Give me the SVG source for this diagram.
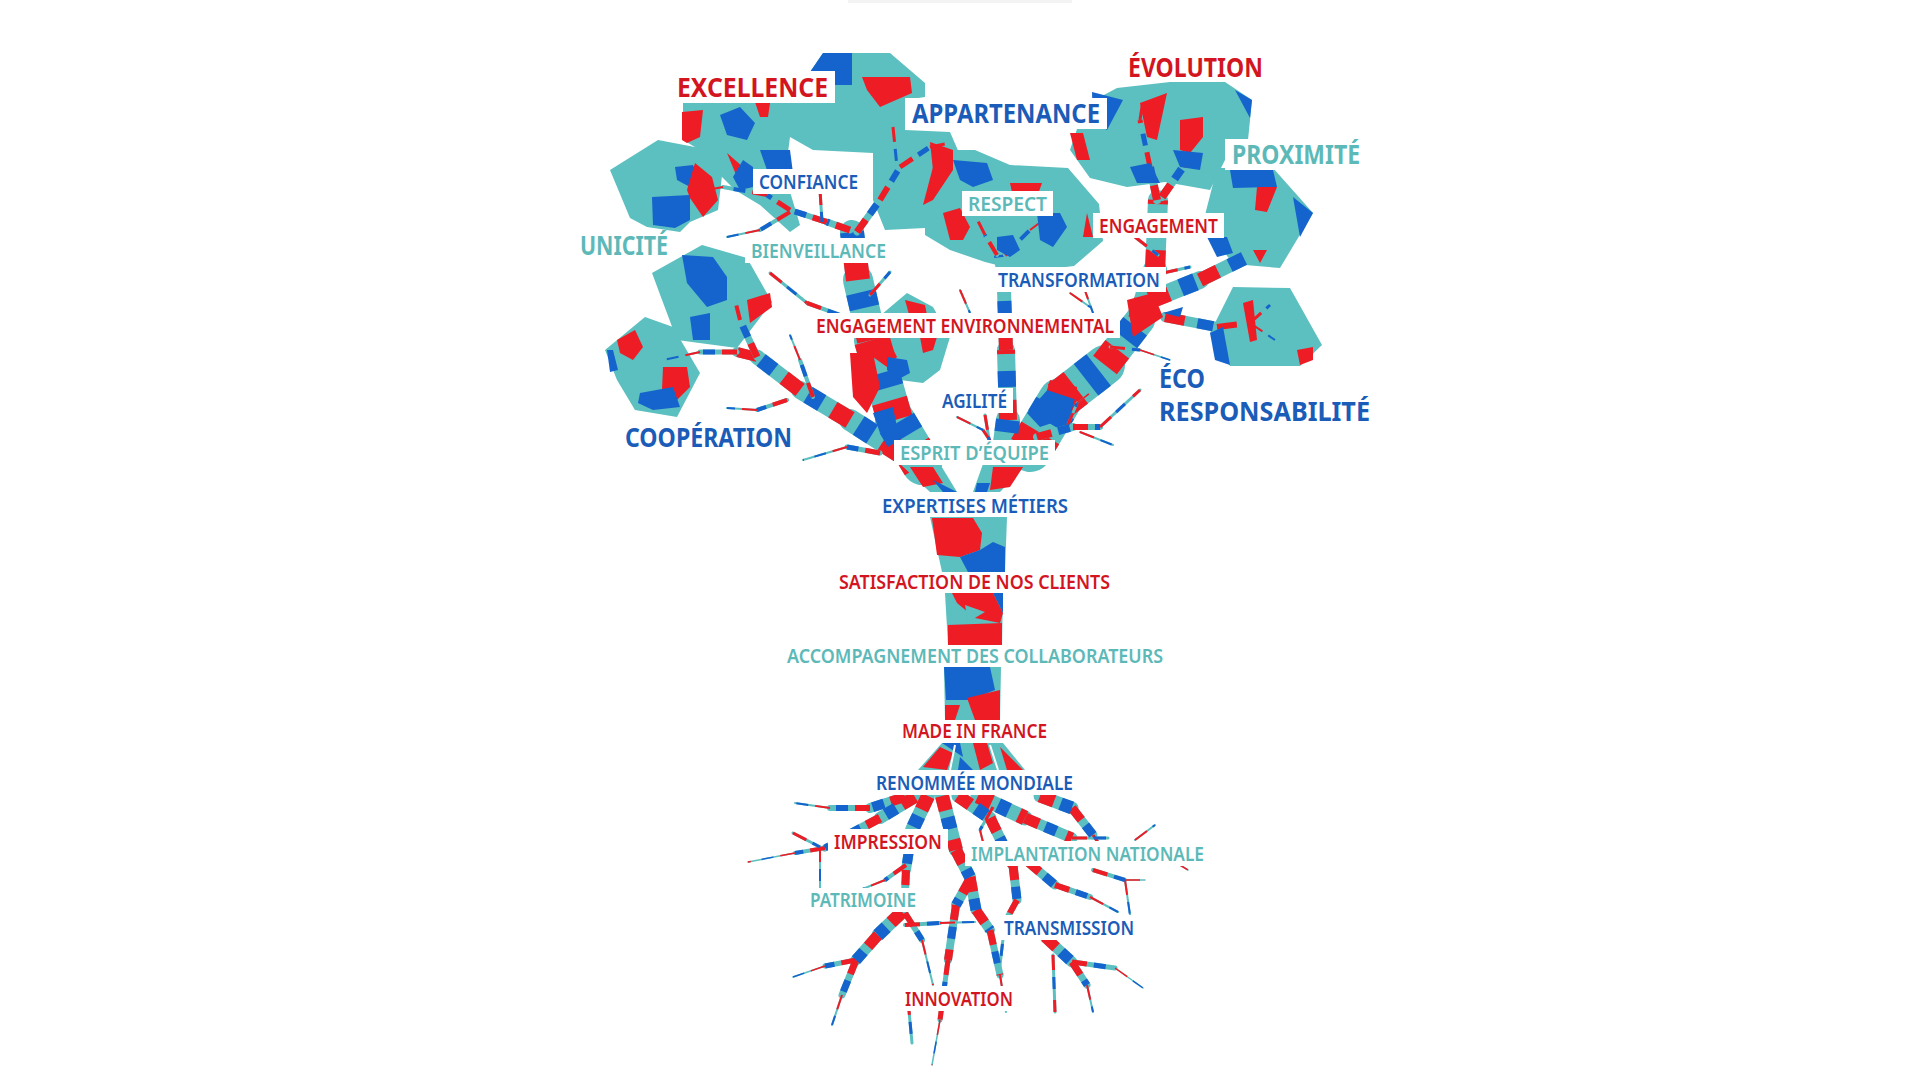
<svg xmlns="http://www.w3.org/2000/svg" width="1917" height="1080" viewBox="0 0 1917 1080">
<style>
.t{fill:#5cbfc0}.r{fill:#ee1c25}.b{fill:#1563cc}.w{fill:#fff}
.lb{font-family:"Noto Sans","Open Sans","Liberation Sans",sans-serif;font-weight:600;font-size:20px}
.bg{font-family:"Noto Sans","Open Sans","Liberation Sans",sans-serif;font-weight:700;font-size:26px}
.cr{fill:#d3151f}.cb{fill:#1a5cb7}.ct{fill:#5cb9b8}
</style>
<defs>
<g id="limbs" fill="none">
<path d="M922,465 L895,420" stroke-width="40"/>
<path d="M895,420 L872,340" stroke-width="36"/>
<path d="M872,340 L858,280" stroke-width="30"/>
<path d="M858,280 L852,232" stroke-width="24"/>
<path d="M900,452 L850,420" stroke-width="22"/>
<path d="M850,420 L800,390" stroke-width="18"/>
<path d="M800,390 L757,357" stroke-width="15"/>
<path d="M757,357 L737,352" stroke-width="10"/>
<path d="M1002,465 L1008,420" stroke-width="24"/>
<path d="M1008,420 L1006,350" stroke-width="18"/>
<path d="M1006,350 L1004,290" stroke-width="14"/>
<path d="M1004,290 L1000,255" stroke-width="12"/>
<path d="M1030,450 L1060,400" stroke-width="44"/>
<path d="M1060,400 L1105,365" stroke-width="40"/>
<path d="M1105,365 L1140,320" stroke-width="30"/>
<path d="M1140,320 L1155,270" stroke-width="24"/>
<path d="M1155,270 L1158,200" stroke-width="20"/>
<path d="M1150,300 L1200,280" stroke-width="18"/>
<path d="M1200,280 L1247,257" stroke-width="14"/>
<path d="M1165,317 L1217,327" stroke-width="10"/>
<path d="M1217,327 L1250,323" stroke-width="6"/>
</g>
<g id="fine" fill="none">
<path d="M857,232 L880,200" stroke-width="7"/>
<path d="M880,200 L900,167" stroke-width="6"/>
<path d="M900,167 L930,147" stroke-width="5"/>
<path d="M930,147 L950,143" stroke-width="3"/>
<path d="M850,230 L827,222" stroke-width="7"/>
<path d="M827,222 L790,210" stroke-width="6"/>
<path d="M790,210 L767,195" stroke-width="5"/>
<path d="M767,195 L723,187" stroke-width="4"/>
<path d="M723,187 L690,193" stroke-width="2"/>
<path d="M790,212 L760,230" stroke-width="4"/>
<path d="M760,230 L727,237" stroke-width="2"/>
<path d="M820,190 L822,222" stroke-width="3"/>
<path d="M893,127 L897,167" stroke-width="3"/>
<path d="M770,273 L807,303" stroke-width="3"/>
<path d="M807,303 L840,315" stroke-width="4"/>
<path d="M870,295 L890,272" stroke-width="3"/>
<path d="M813,397 L800,360" stroke-width="4"/>
<path d="M800,360 L790,335" stroke-width="2"/>
<path d="M787,400 L757,410" stroke-width="4"/>
<path d="M757,410 L727,408" stroke-width="2"/>
<path d="M880,453 L847,447" stroke-width="5"/>
<path d="M847,447 L803,460" stroke-width="2"/>
<path d="M737,352 L700,352" stroke-width="5"/>
<path d="M700,352 L663,360" stroke-width="2"/>
<path d="M757,357 L740,320" stroke-width="7"/>
<path d="M740,320 L735,300" stroke-width="4"/>
<path d="M957,417 L983,430" stroke-width="2"/>
<path d="M983,430 L993,445" stroke-width="3"/>
<path d="M985,415 L990,445" stroke-width="3"/>
<path d="M1037,437 L1073,427" stroke-width="8"/>
<path d="M1073,427 L1100,427" stroke-width="6"/>
<path d="M1100,427 L1140,390" stroke-width="3"/>
<path d="M1067,427 L1077,403" stroke-width="3"/>
<path d="M1077,403 L1090,393" stroke-width="1.5"/>
<path d="M1080,432 L1113,445" stroke-width="2"/>
<path d="M1070,293 L1090,307" stroke-width="2"/>
<path d="M1083,285 L1093,313" stroke-width="2"/>
<path d="M960,290 L970,313" stroke-width="2"/>
<path d="M1157,200 L1150,167" stroke-width="8"/>
<path d="M1150,167 L1140,120" stroke-width="5"/>
<path d="M1140,120 L1143,100" stroke-width="3"/>
<path d="M1162,197 L1183,167" stroke-width="8"/>
<path d="M1183,167 L1200,120" stroke-width="5"/>
<path d="M1110,347 L1140,350" stroke-width="3"/>
<path d="M1140,350 L1170,360" stroke-width="1.5"/>
<path d="M997,255 L985,235" stroke-width="4"/>
<path d="M985,235 L975,215" stroke-width="3"/>
<path d="M1005,255 L1030,230" stroke-width="4"/>
<path d="M1030,230 L1050,215" stroke-width="2"/>
<path d="M1135,237 L1158,255" stroke-width="3"/>
<path d="M1163,273 L1190,267" stroke-width="3"/>
<path d="M1250,323 L1270,305" stroke-width="3"/>
<path d="M1250,323 L1275,340" stroke-width="2"/>
<path d="M905,797 L870,808" stroke-width="10"/>
<path d="M870,808 L830,808" stroke-width="6"/>
<path d="M830,808 L795,803" stroke-width="2"/>
<path d="M915,797 L880,818" stroke-width="12"/>
<path d="M880,818 L848,835" stroke-width="9"/>
<path d="M848,835 L825,848" stroke-width="7"/>
<path d="M825,848 L795,853" stroke-width="4"/>
<path d="M795,853 L748,862" stroke-width="1.5"/>
<path d="M928,796 L912,830" stroke-width="14"/>
<path d="M912,830 L906,870" stroke-width="10"/>
<path d="M906,870 L905,893" stroke-width="8"/>
<path d="M906,865 L885,880" stroke-width="4"/>
<path d="M885,880 L860,890" stroke-width="2"/>
<path d="M902,912 L878,935" stroke-width="13"/>
<path d="M878,935 L856,960" stroke-width="11"/>
<path d="M856,960 L842,995" stroke-width="7"/>
<path d="M842,995 L832,1025" stroke-width="2"/>
<path d="M856,960 L825,966" stroke-width="5"/>
<path d="M825,966 L793,977" stroke-width="1.5"/>
<path d="M905,913 L922,940" stroke-width="6"/>
<path d="M922,940 L933,985" stroke-width="2"/>
<path d="M942,796 L956,850" stroke-width="14"/>
<path d="M956,850 L970,877" stroke-width="12"/>
<path d="M970,877 L976,910" stroke-width="11"/>
<path d="M976,910 L990,930" stroke-width="10"/>
<path d="M990,930 L1000,975" stroke-width="7"/>
<path d="M1000,975 L1006,1012" stroke-width="2"/>
<path d="M970,880 L956,905" stroke-width="10"/>
<path d="M956,905 L948,960" stroke-width="8"/>
<path d="M948,960 L940,1020" stroke-width="5"/>
<path d="M940,1020 L932,1065" stroke-width="1.5"/>
<path d="M958,796 L990,818" stroke-width="13"/>
<path d="M990,818 L1013,865" stroke-width="11"/>
<path d="M1013,865 L1017,900" stroke-width="9"/>
<path d="M1017,900 L1005,922" stroke-width="6"/>
<path d="M1005,922 L1000,965" stroke-width="3"/>
<path d="M978,796 L1025,818" stroke-width="15"/>
<path d="M1025,818 L1072,838" stroke-width="11"/>
<path d="M1072,838 L1108,838" stroke-width="3"/>
<path d="M1040,796 L1072,808" stroke-width="13"/>
<path d="M1072,808 L1093,835" stroke-width="9"/>
<path d="M1093,835 L1108,857" stroke-width="3"/>
<path d="M1028,862 L1055,885" stroke-width="9"/>
<path d="M1055,885 L1090,897" stroke-width="6"/>
<path d="M1090,897 L1118,912" stroke-width="2"/>
<path d="M1045,937 L1072,962" stroke-width="11"/>
<path d="M1072,962 L1087,985" stroke-width="7"/>
<path d="M1087,985 L1093,1012" stroke-width="2"/>
<path d="M1072,962 L1115,968" stroke-width="5"/>
<path d="M1115,968 L1143,988" stroke-width="1.5"/>
<path d="M1053,955 L1055,1012" stroke-width="3"/>
<path d="M908,1000 L912,1043" stroke-width="3"/>
<path d="M1093,870 L1125,880" stroke-width="4"/>
<path d="M1125,880 L1145,880" stroke-width="1.5"/>
<path d="M1125,880 L1130,915" stroke-width="2"/>
<path d="M793,833 L820,847" stroke-width="3"/>
<path d="M820,847 L820,890" stroke-width="2"/>
<path d="M1135,840 L1155,825" stroke-width="2"/>
<path d="M993,807 L980,830" stroke-width="3"/>
<path d="M980,830 L983,842" stroke-width="2"/>
<path d="M1175,862 L1188,870" stroke-width="1.5"/>
<path d="M905,925 L940,923" stroke-width="4"/>
<path d="M940,923 L975,922" stroke-width="2"/>
</g>
</defs>
<rect width="1917" height="1080" fill="#fff"/>
<rect x="848" y="0" width="224" height="3" fill="#f3f3f3"/>

<g id="foliage">
<polygon class="t" points="683,100 810,72 823,53 890,53 925,83 925,97 905,100 905,130 950,132 960,155 945,180 925,228 885,230 873,200 873,153 813,150 790,137 785,175 800,225 790,232 760,205 735,190 715,170 700,150 683,140"/>
<polygon class="t" points="610,170 658,140 700,148 723,167 718,210 690,222 680,232 647,227 630,218"/>
<polygon class="t" points="940,150 975,150 1010,165 1068,168 1099,204 1103,241 1074,266 1025,272 985,262 950,250 925,235 925,200"/>
<polygon class="t" points="1070,150 1085,105 1117,88 1170,82 1225,82 1252,100 1248,140 1225,160 1210,190 1165,182 1127,187 1090,178"/>
<polygon class="t" points="1217,168 1273,168 1313,213 1280,268 1233,264 1203,223"/>
<polygon class="t" points="1233,287 1290,288 1322,345 1300,366 1230,366 1210,333"/>
<polygon class="t" points="652,273 702,245 747,258 772,302 737,348 677,340"/>
<polygon class="t" points="605,350 645,317 673,327 700,373 677,417 635,410 617,380"/>
<polygon class="t" points="875,320 907,293 933,307 950,337 940,370 923,383 900,380"/>
</g>

<g id="branches">
<use href="#limbs" stroke="#5cbfc0" stroke-linecap="round"/>
<use href="#limbs" stroke="#ee1c25" stroke-dasharray="20 46"/>
<use href="#limbs" stroke="#1563cc" stroke-dasharray="16 50" stroke-dashoffset="-33"/>
<use href="#fine" stroke="#5cbfc0" stroke-linecap="round"/>
<use href="#fine" stroke="#ee1c25" stroke-dasharray="15 30"/>
<use href="#fine" stroke="#1563cc" stroke-dasharray="12 33" stroke-dashoffset="-22"/>
</g>

<g id="patches">
<polygon class="b" points="810,72 823,53 852,53 852,85 835,85"/>
<polygon class="r" points="682,112 703,110 700,137 687,143 682,140"/>
<polygon class="b" points="720,115 740,107 755,123 747,140 727,135"/>
<polygon class="r" points="755,102 770,103 768,117 760,117"/>
<polygon class="r" points="862,77 910,77 912,93 880,107 867,90"/>
<polygon class="b" points="760,150 790,150 793,173 767,170"/>
<polygon class="r" points="727,153 743,167 737,177"/>
<polygon class="r" points="930,142 953,150 953,170 933,170"/>
<polygon class="r" points="933,167 953,170 933,200 923,205"/>
<polygon class="b" points="953,160 987,163 993,180 973,187 960,180"/>
<polygon class="r" points="1010,183 1042,183 1037,197 1013,197"/>
<polygon class="r" points="943,213 960,208 970,227 963,240 950,240"/>
<polygon class="b" points="997,237 1013,235 1020,250 1010,257 997,250"/>
<polygon class="b" points="1037,213 1060,213 1067,227 1053,247 1040,240"/>
<polygon class="r" points="1087,213 1093,237 1083,237"/>
<polygon class="b" points="675,167 693,165 700,180 690,187 677,180"/>
<polygon class="r" points="695,163 712,177 718,200 703,217 690,198 687,190"/>
<polygon class="b" points="652,197 690,195 690,220 675,228 653,225"/>
<polygon class="b" points="743,160 753,167 753,187 740,190 733,177"/>
<polygon class="b" points="1092,92 1123,100 1107,130 1093,120"/>
<polygon class="r" points="1070,133 1083,133 1090,160 1077,160"/>
<polygon class="r" points="1140,103 1167,93 1157,140 1147,137"/>
<polygon class="r" points="1180,120 1203,117 1203,137 1190,153 1180,150"/>
<polygon class="b" points="1173,150 1203,153 1200,170 1180,167"/>
<polygon class="b" points="1235,90 1252,100 1250,118"/>
<polygon class="b" points="1130,167 1150,163 1160,183 1137,183"/>
<polygon class="b" points="1230,170 1273,170 1277,187 1233,188"/>
<polygon class="r" points="1257,187 1277,187 1267,212 1255,210"/>
<polygon class="b" points="1293,197 1313,213 1300,237"/>
<polygon class="b" points="1207,237 1227,237 1233,253 1217,257"/>
<polygon class="r" points="1253,250 1267,250 1260,263"/>
<polygon class="r" points="1243,303 1253,300 1257,340 1250,342"/>
<polygon class="r" points="1297,350 1313,347 1313,360 1300,365"/>
<polygon class="b" points="1210,333 1223,327 1230,365 1215,360"/>
<polygon class="b" points="682,255 713,257 727,277 727,300 707,307 687,283"/>
<polygon class="b" points="690,317 710,313 710,340 693,340"/>
<polygon class="r" points="747,300 770,293 772,307 750,323"/>
<polygon class="r" points="617,340 635,330 643,347 633,360 620,353"/>
<polygon class="r" points="663,367 687,367 690,387 677,400 662,390"/>
<polygon class="b" points="640,393 673,387 680,407 653,410 638,403"/>
<polygon class="b" points="607,350 613,350 618,370 610,372"/>
<polygon class="r" points="873,340 890,343 897,357 887,367 873,357"/>
<polygon class="r" points="920,337 937,337 933,350 923,353"/>
<polygon class="b" points="887,357 907,360 910,373 897,380 887,370"/>
<polygon class="r" points="905,300 925,305 928,320 910,318"/>
<polygon class="r" points="850,353 873,353 880,387 867,413 853,397"/>
<polygon class="b" points="873,413 893,407 897,427 880,433"/>
<polygon class="b" points="1027,413 1050,387 1077,390 1070,417 1040,427"/>
<polygon class="r" points="1050,380 1077,387 1077,400 1047,390"/>
<polygon class="r" points="1127,300 1153,293 1163,317 1133,337"/>
<polygon class="b" points="1163,313 1183,307 1180,317"/>
</g>

<g id="trunk">
<polygon class="t" points="900,464 940,464 957,492 930,492"/>
<polygon class="r" points="910,467 933,467 943,483 923,487"/>
<polygon class="b" points="933,480 957,492 943,492"/>
<polygon class="t" points="983,464 1027,464 1000,492 973,492"/>
<polygon class="r" points="993,467 1023,467 1010,487 990,490"/>
<polygon class="b" points="977,483 990,483 987,492 975,492"/>
<polygon class="t" points="930,517 1007,517 1005,572 942,572"/>
<polygon class="r" points="932,518 973,518 982,533 980,550 960,557 937,555"/>
<polygon class="b" points="960,557 980,550 993,542 1005,547 1005,572 968,572"/>
<polygon class="t" points="945,593 1003,593 1002,645 948,645"/>
<polygon class="r" points="952,593 993,593 1003,613 1000,623 975,618 957,603"/>
<polygon class="b" points="993,593 1003,593 1003,613"/>
<polygon class="r" points="948,625 1002,623 1002,645 948,645"/>
<polygon class="t" points="965,605 985,612 968,622"/>
<polygon class="t" points="944,667 1001,667 1000,720 945,720"/>
<polygon class="b" points="944,667 990,667 995,690 970,700 946,700"/>
<polygon class="r" points="967,698 1000,690 1000,720 975,720"/>
<polygon class="r" points="945,705 960,705 955,720 945,720"/>
<polygon class="t" points="942,743 1003,743 1025,770 918,770"/>
<polygon class="r" points="923,767 940,747 953,753 947,770"/>
<polygon class="b" points="942,743 960,743 963,757"/>
<polygon class="r" points="973,743 987,743 993,763 980,770"/>
<polygon class="b" points="960,757 973,770 958,770"/>
<polygon class="r" points="1000,747 1013,760 1023,770 1007,770"/>
<path d="M955,745 L950,770 M990,745 L998,770" stroke="#fff" stroke-width="2" fill="none"/>
</g>

<g id="labels">
<g id="l-excellence"><rect class="w" x="670" y="71" width="165" height="32"/><text class="bg cr" x="677" y="97" textLength="151" lengthAdjust="spacingAndGlyphs">EXCELLENCE</text></g>
<g id="l-appartenance"><rect class="w" x="905" y="98" width="202" height="31"/><text class="bg cb" x="912" y="123" textLength="188" lengthAdjust="spacingAndGlyphs">APPARTENANCE</text></g>
<g id="l-evolution"><text class="bg cr" x="1128" y="77" textLength="135" lengthAdjust="spacingAndGlyphs">ÉVOLUTION</text></g>
<g id="l-proximite"><rect class="w" x="1225" y="139" width="142" height="31"/><text class="bg ct" x="1232" y="164" textLength="128" lengthAdjust="spacingAndGlyphs">PROXIMITÉ</text></g>
<g id="l-unicite"><text class="bg ct" x="580" y="255" textLength="88" lengthAdjust="spacingAndGlyphs">UNICITÉ</text></g>
<g id="l-cooperation"><text class="bg cb" x="625" y="447" textLength="167" lengthAdjust="spacingAndGlyphs">COOPÉRATION</text></g>
<g id="l-eco"><text class="bg cb" x="1159" y="388" font-size="24" textLength="46" lengthAdjust="spacingAndGlyphs">ÉCO</text><text class="bg cb" x="1159" y="421" font-size="24" textLength="211" lengthAdjust="spacingAndGlyphs">RESPONSABILITÉ</text></g>
<g id="l-confiance"><rect class="w" x="753" y="169" width="111" height="25"/><text class="lb cb" x="759" y="189" textLength="99" lengthAdjust="spacingAndGlyphs">CONFIANCE</text></g>
<g id="l-respect"><rect class="w" x="962" y="191" width="91" height="25"/><text class="lb ct" x="968" y="211" textLength="79" lengthAdjust="spacingAndGlyphs">RESPECT</text></g>
<g id="l-bienveillance"><rect class="w" x="745" y="238" width="147" height="25"/><text class="lb ct" x="751" y="258" textLength="135" lengthAdjust="spacingAndGlyphs">BIENVEILLANCE</text></g>
<g id="l-engagement"><rect class="w" x="1093" y="213" width="131" height="25"/><text class="lb cr" x="1099" y="233" textLength="119" lengthAdjust="spacingAndGlyphs">ENGAGEMENT</text></g>
<g id="l-transformation"><rect class="w" x="992" y="267" width="174" height="25"/><text class="lb cb" x="998" y="287" textLength="162" lengthAdjust="spacingAndGlyphs">TRANSFORMATION</text></g>
<g id="l-engenv"><rect class="w" x="810" y="313" width="310" height="25"/><text class="lb cr" x="816" y="333" textLength="298" lengthAdjust="spacingAndGlyphs">ENGAGEMENT ENVIRONNEMENTAL</text></g>
<g id="l-agilite"><rect class="w" x="936" y="388" width="77" height="25"/><text class="lb cb" x="942" y="408" textLength="65" lengthAdjust="spacingAndGlyphs">AGILITÉ</text></g>
<g id="l-esprit"><rect class="w" x="894" y="440" width="161" height="25"/><text class="lb ct" x="900" y="460" textLength="149" lengthAdjust="spacingAndGlyphs">ESPRIT D’ÉQUIPE</text></g>
<g id="l-expertises"><rect class="w" x="876" y="494" width="198" height="22"/><text class="lb cb" x="882" y="513" textLength="186" lengthAdjust="spacingAndGlyphs">EXPERTISES MÉTIERS</text></g>
<g id="l-satisfaction"><rect class="w" x="833" y="574" width="283" height="18"/><text class="lb cr" x="839" y="589" textLength="271" lengthAdjust="spacingAndGlyphs">SATISFACTION DE NOS CLIENTS</text></g>
<g id="l-accompagnement"><rect class="w" x="781" y="646" width="388" height="20"/><text class="lb ct" x="787" y="663" textLength="376" lengthAdjust="spacingAndGlyphs">ACCOMPAGNEMENT DES COLLABORATEURS</text></g>
<g id="l-made"><rect class="w" x="896" y="722" width="157" height="20"/><text class="lb cr" x="902" y="738" textLength="145" lengthAdjust="spacingAndGlyphs">MADE IN FRANCE</text></g>
<g id="l-renommee"><rect class="w" x="870" y="772" width="209" height="23"/><text class="lb cb" x="876" y="790" textLength="197" lengthAdjust="spacingAndGlyphs">RENOMMÉE MONDIALE</text></g>
<g id="l-impression"><rect class="w" x="828" y="829" width="120" height="25"/><text class="lb cr" x="834" y="849" textLength="108" lengthAdjust="spacingAndGlyphs">IMPRESSION</text></g>
<g id="l-implantation"><rect class="w" x="965" y="841" width="245" height="25"/><text class="lb ct" x="971" y="861" textLength="233" lengthAdjust="spacingAndGlyphs">IMPLANTATION NATIONALE</text></g>
<g id="l-patrimoine"><rect class="w" x="804" y="888" width="118" height="24"/><text class="lb ct" x="810" y="907" textLength="106" lengthAdjust="spacingAndGlyphs">PATRIMOINE</text></g>
<g id="l-transmission"><rect class="w" x="998" y="915" width="142" height="25"/><text class="lb cb" x="1004" y="935" textLength="130" lengthAdjust="spacingAndGlyphs">TRANSMISSION</text></g>
<g id="l-innovation"><rect class="w" x="899" y="986" width="120" height="25"/><text class="lb cr" x="905" y="1006" textLength="108" lengthAdjust="spacingAndGlyphs">INNOVATION</text></g>
</g>
</svg>
